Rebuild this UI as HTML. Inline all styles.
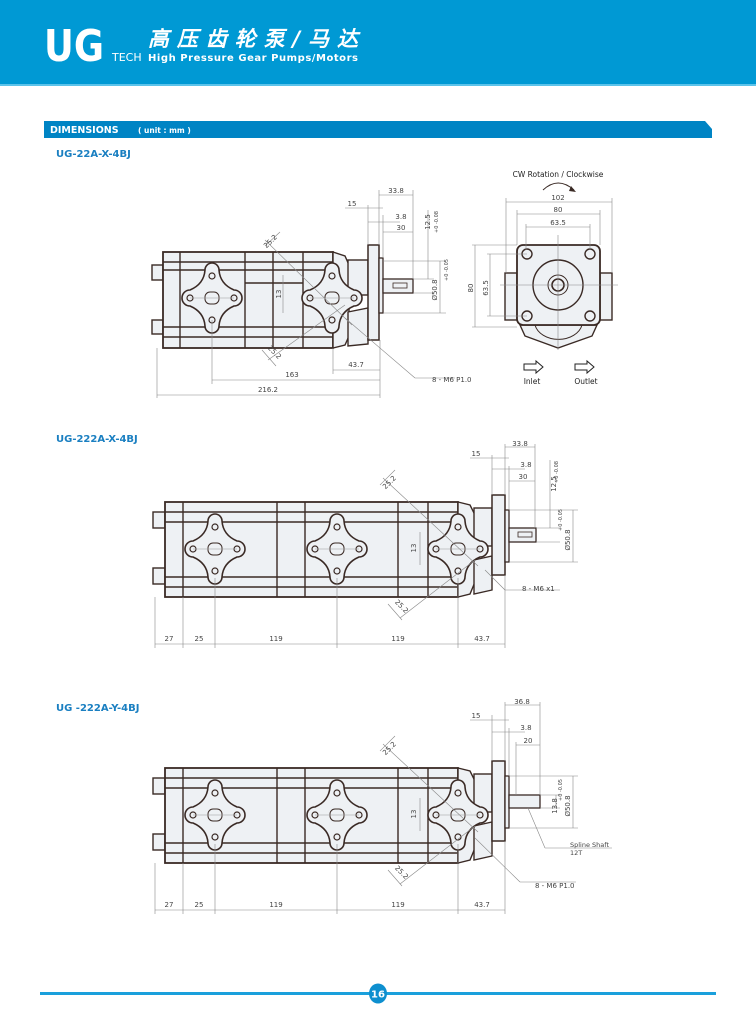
<!DOCTYPE html>
<html><head><meta charset="utf-8"><style>
html,body{margin:0;padding:0;background:#fff}
svg{display:block}
text{font-family:"DejaVu Sans","Liberation Sans",sans-serif}
</style></head><body>
<svg width="756" height="1024" viewBox="0 0 756 1024" xmlns="http://www.w3.org/2000/svg">
<defs>
<g id="port">
<path d="M-7,-28 A7,7 0 0 1 7,-28 Q8,-14 22,-8 A8,8 0 0 1 22,8 Q8,14 7,28 A7,7 0 0 1 -7,28 Q-8,14 -22,8 A8,8 0 0 1 -22,-8 Q-8,-14 -7,-28Z" fill="#eef1f4" stroke="#3a2a25" stroke-width="1.6"/>
<circle cx="0" cy="-22" r="3" fill="none" stroke="#3a2a25" stroke-width="1.2"/>
<circle cx="0" cy="22" r="3" fill="none" stroke="#3a2a25" stroke-width="1.2"/>
<circle cx="-22" cy="0" r="3" fill="none" stroke="#3a2a25" stroke-width="1.2"/>
<circle cx="22" cy="0" r="3" fill="none" stroke="#3a2a25" stroke-width="1.2"/>
<rect x="-7" y="-6" width="14" height="12" rx="5" fill="none" stroke="#3a2a25"/>
<line x1="-22" y1="0" x2="22" y2="0" stroke="#999" stroke-width="0.5"/>
</g>
<g id="b2">
<rect x="153" y="512" width="12" height="16" fill="#eef1f4" stroke="#3a2a25" stroke-width="1.4"/>
<rect x="153" y="568" width="12" height="16" fill="#eef1f4" stroke="#3a2a25" stroke-width="1.4"/>
<rect x="165" y="502" width="293" height="95" fill="#eef1f4" stroke="#3a2a25" stroke-width="1.8"/>
<g stroke="#3a2a25" stroke-width="1.4">
<line x1="183" y1="502" x2="183" y2="597"/><line x1="277" y1="502" x2="277" y2="597"/>
<line x1="305" y1="502" x2="305" y2="597"/><line x1="398" y1="502" x2="398" y2="597"/>
<line x1="428" y1="502" x2="428" y2="597"/>
<line x1="165" y1="512" x2="458" y2="512"/><line x1="165" y1="522" x2="458" y2="522"/>
<line x1="165" y1="577" x2="458" y2="577"/><line x1="165" y1="587" x2="458" y2="587"/>
</g>
<path d="M458,502 L470,505 L475,515 L475,582 L470,594 L458,597Z" fill="#eef1f4" stroke="#3a2a25" stroke-width="1.4"/>
<rect x="474" y="508" width="18" height="38" fill="#eef1f4" stroke="#3a2a25" stroke-width="1.4"/>
<path d="M474,560 L492,556 L492,590 L474,594Z" fill="#eef1f4" stroke="#3a2a25" stroke-width="1.4"/>
<rect x="492" y="495" width="13" height="80" fill="#eef1f4" stroke="#3a2a25" stroke-width="1.5"/>
<rect x="505" y="510" width="4" height="52" fill="#eef1f4" stroke="#3a2a25" stroke-width="1.3"/>
<use href="#port" x="215" y="549"/><use href="#port" x="337" y="549"/><use href="#port" x="458" y="549"/>
<g stroke="#888" stroke-width="0.6" fill="none">
<line x1="383" y1="478" x2="478" y2="566"/><line x1="395" y1="470" x2="380" y2="485"/>
<line x1="400" y1="618" x2="475" y2="560"/><line x1="388" y1="604" x2="402" y2="620"/>
<line x1="420" y1="532" x2="420" y2="565"/>
<line x1="155" y1="597" x2="155" y2="648"/><line x1="183" y1="597" x2="183" y2="648"/>
<line x1="215" y1="578" x2="215" y2="648"/><line x1="337" y1="578" x2="337" y2="648"/>
<line x1="458" y1="578" x2="458" y2="648"/><line x1="505" y1="575" x2="505" y2="648"/>
<line x1="155" y1="644" x2="505" y2="644"/>
</g>
<g font-size="7" fill="#444" text-anchor="middle">
<text x="169" y="641">27</text><text x="199" y="641">25</text><text x="276" y="641">119</text><text x="398" y="641">119</text><text x="482" y="641">43.7</text>
<text transform="translate(416,548) rotate(-90)">13</text>
<text transform="translate(391,484) rotate(-45)">25.2</text>
<text transform="translate(400,608) rotate(45)">25.2</text>
</g>
</g>
</defs>

<rect x="0" y="0" width="756" height="84" fill="#0099d4"/>
<rect x="0" y="84" width="756" height="2" fill="#5cc3ea"/>
<text x="44" y="61" font-family="Liberation Sans Narrow,Liberation Sans,sans-serif" font-size="44" font-weight="bold" fill="#fff" textLength="60" lengthAdjust="spacingAndGlyphs">UG</text>
<text x="112" y="61" font-size="11" fill="#fff" font-family="Liberation Sans,sans-serif">TECH</text>
<text x="148" y="46" font-family="Liberation Sans,'Noto Sans CJK SC',sans-serif" font-size="21" font-weight="bold" font-style="italic" fill="#fff" textLength="210">高压齿轮泵/马达</text>
<text x="148" y="61" font-family="Liberation Serif,serif" font-size="10" font-weight="bold" fill="#fff" textLength="210">High Pressure Gear Pumps/Motors</text>

<path d="M44,121 L705,121 L712,129 L712,138 L44,138Z" fill="#0084c4"/>
<text x="50" y="133" font-size="9.5" font-weight="bold" fill="#fff" font-family="Liberation Sans,sans-serif">DIMENSIONS</text>
<text x="138" y="133" font-size="7.5" font-weight="bold" fill="#fff" font-family="Liberation Sans,sans-serif">( unit : mm )</text>

<g font-family="Liberation Sans,sans-serif" font-size="10" font-weight="bold" fill="#1a7fc1">
<text x="56" y="157">UG-22A-X-4BJ</text>
<text x="56" y="442">UG-222A-X-4BJ</text>
<text x="56" y="711">UG -222A-Y-4BJ</text>
</g>

<g>
<rect x="152" y="265" width="11" height="15" fill="#eef1f4" stroke="#3a2a25" stroke-width="1.4"/>
<rect x="152" y="320" width="11" height="14" fill="#eef1f4" stroke="#3a2a25" stroke-width="1.4"/>
<rect x="163" y="252" width="170" height="96" fill="#eef1f4" stroke="#3a2a25" stroke-width="1.8"/>
<g stroke="#3a2a25" stroke-width="1.4">
<line x1="180" y1="252" x2="180" y2="348"/><line x1="245" y1="252" x2="245" y2="348"/>
<line x1="273" y1="252" x2="273" y2="348"/><line x1="303" y1="252" x2="303" y2="348"/>
<line x1="163" y1="262" x2="333" y2="262"/><line x1="163" y1="270" x2="333" y2="270"/>
<line x1="163" y1="327" x2="333" y2="327"/><line x1="163" y1="337" x2="333" y2="337"/>
<line x1="245" y1="283" x2="303" y2="283"/>
</g>
<path d="M333,252 L345,256 L349,265 L349,336 L345,345 L333,348Z" fill="#eef1f4" stroke="#3a2a25" stroke-width="1.4"/>
<rect x="348" y="260" width="20" height="35" fill="#eef1f4" stroke="#3a2a25" stroke-width="1.4"/>
<path d="M348,312 L368,308 L368,344 L348,346Z" fill="#eef1f4" stroke="#3a2a25" stroke-width="1.4"/>
<rect x="368" y="245" width="11" height="95" fill="#eef1f4" stroke="#3a2a25" stroke-width="1.5"/>
<rect x="379" y="258" width="4" height="55" fill="#eef1f4" stroke="#3a2a25" stroke-width="1.3"/>
<rect x="383" y="279" width="30" height="14" fill="#eef1f4" stroke="#3a2a25" stroke-width="1.3"/>
<rect x="393" y="283" width="14" height="5" fill="none" stroke="#3a2a25" stroke-width="0.8"/>
<use href="#port" x="212" y="298"/><use href="#port" x="332" y="298"/>
<g stroke="#888" stroke-width="0.6" fill="none">
<line x1="157" y1="348" x2="157" y2="398"/><line x1="212" y1="320" x2="212" y2="384"/>
<line x1="333" y1="348" x2="333" y2="374"/><line x1="380" y1="340" x2="380" y2="398"/>
<line x1="157" y1="395" x2="380" y2="395"/><line x1="212" y1="380" x2="380" y2="380"/><line x1="333" y1="370" x2="380" y2="370"/>
<line x1="265" y1="240" x2="352" y2="325"/><line x1="280" y1="232" x2="265" y2="246"/>
<line x1="268" y1="360" x2="345" y2="305"/><line x1="262" y1="350" x2="276" y2="366"/>
<line x1="283" y1="275" x2="283" y2="313"/>
<line x1="345" y1="318" x2="415" y2="378"/><line x1="415" y1="378" x2="455" y2="378"/>
<line x1="379" y1="190" x2="379" y2="245"/><line x1="413" y1="190" x2="413" y2="279"/><line x1="383" y1="215" x2="383" y2="258"/><line x1="368" y1="205" x2="368" y2="245"/>
<line x1="379" y1="195" x2="413" y2="195"/><line x1="345" y1="208" x2="383" y2="208"/><line x1="368" y1="222" x2="400" y2="222"/><line x1="383" y1="232" x2="413" y2="232"/>
<line x1="383" y1="261" x2="446" y2="261"/><line x1="413" y1="279" x2="434" y2="279"/><line x1="413" y1="293" x2="434" y2="293"/><line x1="383" y1="313" x2="446" y2="313"/>
<line x1="428" y1="210" x2="428" y2="279"/><line x1="440" y1="261" x2="440" y2="313"/>
</g>
<g font-size="7" fill="#444" text-anchor="middle">
<text x="268" y="392">216.2</text><text x="292" y="377">163</text><text x="356" y="367">43.7</text>
<text x="396" y="193">33.8</text><text x="352" y="206">15</text><text x="401" y="219">3.8</text><text x="401" y="230">30</text>
<text transform="translate(281,294) rotate(-90)">13</text>
<text transform="translate(272,243) rotate(-45)">25.2</text>
<text transform="translate(273,354) rotate(45)">25.2</text>
<text transform="translate(430,222) rotate(-90)">12.5</text>
<text transform="translate(438,222) rotate(-90)" font-size="5">+0 -0.08</text>
<text transform="translate(437,290) rotate(-90)">Ø50.8</text>
<text transform="translate(448,270) rotate(-90)" font-size="5">+0 -0.05</text>
<text x="432" y="382" text-anchor="start">8 - M6 P1.0</text>
</g>
</g>

<g>
<rect x="505" y="273" width="12" height="47" fill="#eef1f4" stroke="#3a2a25" stroke-width="1.4"/>
<rect x="600" y="273" width="12" height="47" fill="#eef1f4" stroke="#3a2a25" stroke-width="1.4"/>
<path d="M520,325 L597,325 L592,336 L558,348 L525,336Z" fill="#eef1f4" stroke="#3a2a25" stroke-width="1.4"/>
<path d="M535,325 A24,18 0 0 0 582,325" fill="none" stroke="#3a2a25"/>
<rect x="517" y="245" width="83" height="80" rx="6" fill="#eef1f4" stroke="#3a2a25" stroke-width="1.8"/>
<circle cx="558" cy="285" r="25" fill="none" stroke="#3a2a25" stroke-width="1.4"/>
<circle cx="558" cy="285" r="10" fill="none" stroke="#3a2a25"/>
<circle cx="558" cy="285" r="6" fill="none" stroke="#3a2a25" stroke-width="1.6"/>
<circle cx="527" cy="254" r="5" fill="none" stroke="#3a2a25" stroke-width="1.4"/>
<circle cx="590" cy="254" r="5" fill="none" stroke="#3a2a25" stroke-width="1.4"/>
<circle cx="527" cy="316" r="5" fill="none" stroke="#3a2a25" stroke-width="1.4"/>
<circle cx="590" cy="316" r="5" fill="none" stroke="#3a2a25" stroke-width="1.4"/>
<g stroke="#888" stroke-width="0.6" fill="none">
<line x1="558" y1="235" x2="558" y2="350"/><line x1="500" y1="285" x2="618" y2="285"/>
<line x1="506" y1="198" x2="506" y2="273"/><line x1="612" y1="198" x2="612" y2="273"/><line x1="506" y1="202" x2="612" y2="202"/>
<line x1="517" y1="210" x2="517" y2="245"/><line x1="600" y1="210" x2="600" y2="245"/><line x1="517" y1="214" x2="600" y2="214"/>
<line x1="526" y1="224" x2="526" y2="250"/><line x1="590" y1="224" x2="590" y2="250"/><line x1="526" y1="227" x2="590" y2="227"/>
<line x1="472" y1="245" x2="517" y2="245"/><line x1="472" y1="327" x2="517" y2="327"/><line x1="475" y1="245" x2="475" y2="327"/>
<line x1="487" y1="254" x2="527" y2="254"/><line x1="487" y1="316" x2="527" y2="316"/><line x1="490" y1="254" x2="490" y2="316"/>
</g>
<path d="M543,190 Q558,176 574,190" fill="none" stroke="#3a2a25"/>
<path d="M571,186 L576,192 L569,191Z" fill="#3a2a25"/>
<g font-size="7" fill="#444" text-anchor="middle">
<text x="558" y="200">102</text><text x="558" y="212">80</text><text x="558" y="225">63.5</text>
<text transform="translate(473,288) rotate(-90)">80</text><text transform="translate(488,288) rotate(-90)">63.5</text>
</g>
<text x="558" y="177" font-size="7.5" fill="#222" text-anchor="middle" font-family="Liberation Sans,sans-serif">CW Rotation / Clockwise</text>
<path d="M524,364 L536,364 L536,361 L543,367 L536,373 L536,370 L524,370Z" fill="#fff" stroke="#222"/>
<path d="M575,364 L587,364 L587,361 L594,367 L587,373 L587,370 L575,370Z" fill="#fff" stroke="#222"/>
<text x="532" y="384" font-size="7.5" fill="#222" text-anchor="middle" font-family="Liberation Sans,sans-serif">Inlet</text>
<text x="586" y="384" font-size="7.5" fill="#222" text-anchor="middle" font-family="Liberation Sans,sans-serif">Outlet</text>
</g>

<use href="#b2"/>
<rect x="509" y="528" width="27" height="14" fill="#eef1f4" stroke="#3a2a25" stroke-width="1.3"/>
<rect x="518" y="532" width="14" height="5" fill="none" stroke="#3a2a25" stroke-width="0.8"/>
<g stroke="#888" stroke-width="0.6" fill="none">
<line x1="505" y1="444" x2="505" y2="495"/><line x1="535" y1="444" x2="535" y2="528"/><line x1="509" y1="466" x2="509" y2="510"/><line x1="492" y1="455" x2="492" y2="495"/>
<line x1="505" y1="447" x2="535" y2="447"/><line x1="470" y1="458" x2="509" y2="458"/><line x1="492" y1="469" x2="525" y2="469"/><line x1="509" y1="481" x2="535" y2="481"/>
<line x1="509" y1="510" x2="578" y2="510"/><line x1="536" y1="528" x2="560" y2="528"/><line x1="536" y1="542" x2="560" y2="542"/><line x1="509" y1="562" x2="578" y2="562"/>
<line x1="550" y1="460" x2="550" y2="528"/><line x1="573" y1="510" x2="573" y2="562"/>
<line x1="485" y1="570" x2="505" y2="590"/><line x1="505" y1="590" x2="560" y2="590"/>
</g>
<g font-size="7" fill="#444" text-anchor="middle">
<text x="520" y="446">33.8</text><text x="476" y="456">15</text><text x="526" y="467">3.8</text><text x="523" y="479">30</text>
<text transform="translate(556,484) rotate(-90)">12.5</text>
<text transform="translate(558,472) rotate(-90)" font-size="5">+0 -0.08</text>
<text transform="translate(570,540) rotate(-90)">Ø50.8</text>
<text transform="translate(562,520) rotate(-90)" font-size="5">+0 -0.05</text>
<text x="522" y="591" text-anchor="start">8 - M6 x1</text>
</g>

<use href="#b2" transform="translate(0,266)"/>
<rect x="509" y="795" width="31" height="13" fill="#eef1f4" stroke="#3a2a25" stroke-width="1.3"/>
<g stroke="#888" stroke-width="0.6" fill="none">
<line x1="505" y1="702" x2="505" y2="761"/><line x1="540" y1="702" x2="540" y2="795"/><line x1="509" y1="728" x2="509" y2="776"/><line x1="516" y1="742" x2="516" y2="795"/><line x1="492" y1="715" x2="492" y2="761"/>
<line x1="505" y1="705" x2="540" y2="705"/><line x1="470" y1="720" x2="509" y2="720"/><line x1="492" y1="732" x2="525" y2="732"/><line x1="516" y1="745" x2="540" y2="745"/>
<line x1="509" y1="776" x2="578" y2="776"/><line x1="540" y1="795" x2="560" y2="795"/><line x1="540" y1="808" x2="560" y2="808"/><line x1="509" y1="828" x2="578" y2="828"/>
<line x1="556" y1="795" x2="556" y2="808"/><line x1="573" y1="776" x2="573" y2="828"/>
<line x1="528" y1="808" x2="545" y2="848"/><line x1="545" y1="848" x2="612" y2="848"/>
<line x1="475" y1="838" x2="520" y2="882"/><line x1="520" y1="882" x2="576" y2="882"/>
</g>
<g font-size="7" fill="#444" text-anchor="middle">
<text x="522" y="704">36.8</text><text x="476" y="718">15</text><text x="526" y="730">3.8</text><text x="528" y="743">20</text>
<text transform="translate(557,806) rotate(-90)">13.8</text>
<text transform="translate(570,806) rotate(-90)">Ø50.8</text>
<text transform="translate(562,790) rotate(-90)" font-size="5">+0 -0.05</text>
<text x="570" y="847" text-anchor="start" font-size="6.5">Spline Shaft</text>
<text x="570" y="855" text-anchor="start" font-size="6.5">12T</text>
<text x="535" y="888" text-anchor="start">8 - M6 P1.0</text>
</g>

<rect x="40" y="992" width="676" height="3" fill="#1aa0dc"/>
<ellipse cx="378" cy="993.5" rx="9" ry="10" fill="#0e8fcf"/>
<text x="378" y="997.5" font-size="10" font-weight="bold" fill="#fff" text-anchor="middle" font-family="Liberation Sans,sans-serif">16</text>
</svg>
</body></html>
